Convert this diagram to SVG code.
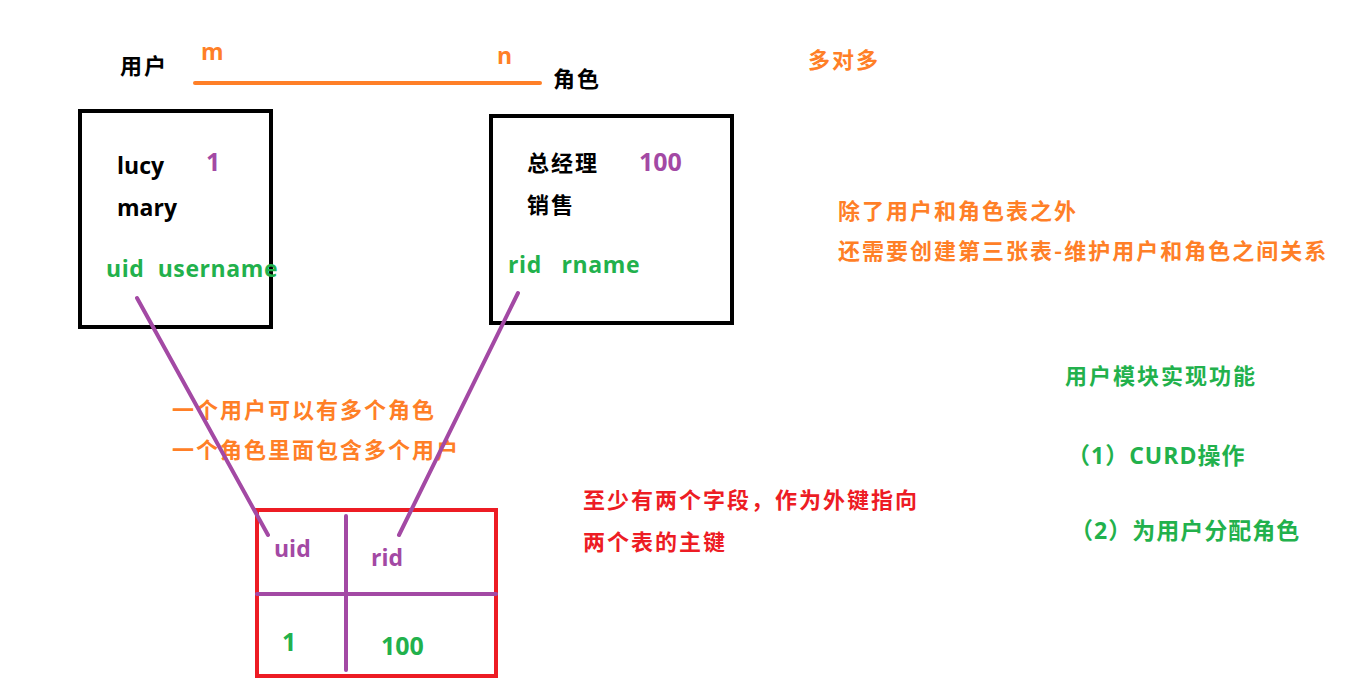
<svg xmlns="http://www.w3.org/2000/svg" width="1350" height="687" viewBox="0 0 1350 687">
<style>
text{font-family:"Open Sans","Noto Sans CJK SC",sans-serif;font-weight:bold;font-size:23px}
.cjk{font-family:"Noto Sans CJK SC",sans-serif;font-size:22px;letter-spacing:2px}
.k{fill:#000}
.o{fill:#FF7F27}
.p{fill:#A349A4}
.g{fill:#22B14C}
.r{fill:#ED1C24}
.box{fill:none;stroke:#000;stroke-width:4}
.rbox{fill:none;stroke:#ED1C24;stroke-width:4}
.pl{stroke:#A349A4;stroke-width:4;stroke-linecap:round;fill:none}
.fld{letter-spacing:0.6px}
</style>
<rect width="1350" height="687" fill="#fff"/>
<g id="relation">
<line x1="195" y1="83" x2="540" y2="83" stroke="#FF7F27" stroke-width="4" stroke-linecap="round"/>
<text class="cjk k" x="120" y="74">用户</text>
<text class="o" x="201" y="60">m</text>
<text class="o" x="497" y="64">n</text>
<text class="cjk k" x="553" y="87">角色</text>
</g>
<g id="title"><text class="cjk o" x="808" y="68">多对多</text></g>
<g id="user-table">
<rect class="box" x="80" y="111" width="191" height="216"/>
<text class="k" x="117" y="174">lucy</text>
<text class="p" x="206" y="171" style="font-size:25px">1</text>
<text class="k" x="117" y="216">mary</text>
<text class="g fld" x="106" y="277" xml:space="preserve">uid  username</text>
</g>
<g id="role-table">
<rect class="box" x="491" y="116" width="241" height="207"/>
<text class="cjk k" x="527" y="171">总经理</text>
<text class="p" x="639" y="171" style="font-size:25px">100</text>
<text class="cjk k" x="527" y="213">销售</text>
<text class="g fld" x="508" y="273" xml:space="preserve">rid   rname</text>
</g>
<g id="note-third"><text class="cjk o" x="838" y="219">除了用户和角色表之外</text>
<text class="cjk o" x="838" y="259">还需要创建第三张表-维护用户和角色之间关系</text></g>
<g id="note-many"><text class="cjk o" x="172" y="418">一个用户可以有多个角色</text>
<text class="cjk o" x="172" y="458">一个角色里面包含多个用户</text></g>
<g id="middle-table">
<rect class="rbox" x="257" y="510" width="239" height="166"/>
<line class="pl" x1="346" y1="516" x2="346" y2="670"/>
<line class="pl" x1="257" y1="594" x2="496" y2="594"/>
<text class="p" x="274" y="557">uid</text>
<text class="p" x="371" y="566">rid</text>
<text class="g" x="282" y="651" style="font-size:25px">1</text>
<text class="g" x="381" y="655" style="font-size:25px">100</text>
</g>
<g id="note-fk"><text class="cjk r" x="583" y="508">至少有两个字段，作为外键指向</text>
<text class="cjk r" x="583" y="550">两个表的主键</text></g>
<g id="user-module"><text class="cjk g" x="1065" y="384">用户模块实现功能</text>
<text class="g" x="1067" y="464" style="letter-spacing:1px">（1）CURD操作</text>
<text class="g" x="1070" y="539" style="letter-spacing:1px">（2）为用户分配角色</text></g>
<g id="connectors">
<line class="pl" x1="137" y1="298" x2="268" y2="535"/>
<line class="pl" x1="518" y1="293" x2="399" y2="535"/>
</g>
</svg>
